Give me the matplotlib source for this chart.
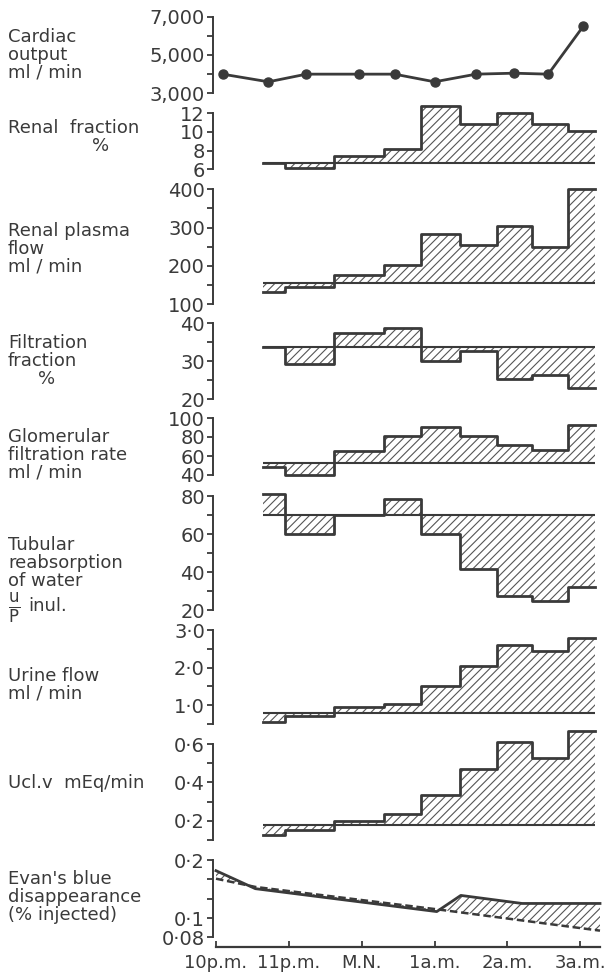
import numpy as np
import matplotlib
matplotlib.use("Agg")
import matplotlib.pyplot as plt

plt.rcParams['font.family'] = ['DejaVu Sans']
plt.rcParams['hatch.linewidth'] = 0.8
plt.rcParams['mathtext.fontset'] = 'dejavusans'

INK = '#3a3a3a'

# time in hours after 10 p.m.
period_edges = [0.64, 0.95, 1.62, 2.30, 2.82, 3.35, 3.85, 4.33, 4.83, 5.20]

cardiac_t = [0.09, 0.72, 1.24, 1.96, 2.45, 3.0, 3.57, 4.09, 4.56, 5.04]
cardiac = [4000, 3600, 4000, 4000, 4000, 3600, 4000, 4050, 4000, 6500]

renal_frac_base = 6.7
renal_frac = [6.7, 6.1, 7.4, 8.2, 12.8, 10.9, 12.0, 10.9, 10.1]

rpf_base = 154
rpf = [132, 144, 176, 202, 282, 254, 304, 250, 400]

ff_base = 33.8
ff = [33.8, 29.2, 37.5, 38.7, 30.2, 32.8, 25.3, 26.4, 23.1]

gfr_base = 53
gfr = [48, 40, 65.5, 81, 91, 81, 72, 66, 92.5]

tub_base = 70
tub = [81, 60, 70, 78.5, 60, 41.5, 27.5, 25, 32]

urine_base = 0.78
urine = [0.56, 0.72, 0.94, 1.03, 1.5, 2.04, 2.6, 2.44, 2.8]

ucl_base = 0.175
ucl = [0.125, 0.15, 0.2, 0.235, 0.335, 0.47, 0.61, 0.53, 0.67]

evans_t = [0, 0.54, 3.03, 3.36, 4.2, 5.27]
evans_solid = [0.176, 0.142, 0.108, 0.131, 0.119, 0.119]
evans_dash_t = [0, 0.54, 3.03, 5.27]
evans_dash = [0.160, 0.145, 0.111, 0.086]

hour_ticks = [0, 1, 2, 3, 4, 5]
hour_labels = ['10p.m.', '11p.m.', 'M.N.', '1a.m.', '2a.m.', '3a.m.']

W, H = 615, 980
fig = plt.figure(figsize=(W / 100, H / 100), dpi=100)
fig.patch.set_facecolor('white')

X0, X1 = 216, 600
TICKFS = 14


def panel(top, bot, ylim, ticks, labels):
    ax = fig.add_axes([X0 / W, 1 - bot / H, (X1 - X0) / W, (bot - top) / H])
    ax.set_xlim(0, 5.27)
    ax.set_ylim(*ylim)
    for s in ['top', 'right', 'bottom']:
        ax.spines[s].set_visible(False)
    ax.spines['left'].set_position(('outward', 2))
    ax.spines['left'].set_linewidth(1.4)
    ax.spines['left'].set_color(INK)
    ax.set_xticks([])
    ax.set_yticks(ticks)
    ax.set_yticklabels(labels)
    ax.tick_params(axis='y', direction='out', length=4.5, width=1.3,
                   color=INK, labelcolor=INK, labelsize=TICKFS, pad=1.5)
    ax.patch.set_alpha(0)
    return ax


def steps(ax, base, vals):
    ys = vals + [vals[-1]]
    ax.fill_between(period_edges, base, ys, step='post', facecolor='none',
                    edgecolor='#555555', hatch='////', linewidth=0, clip_on=False)
    ax.hlines(base, period_edges[0], period_edges[-1], color=INK, lw=1.5, clip_on=False)
    ax.step(period_edges, ys, where='post', color=INK, lw=2.0, clip_on=False)


# Cardiac output
ax = panel(16.7, 93.3, (3000, 7000), [3000, 4000, 5000, 6000, 7000],
           ['3,000', '', '5,000', '', '7,000'])
ax.plot(cardiac_t, cardiac, color=INK, lw=2.0, marker='o', ms=6.5, clip_on=False)

ax = panel(113.3, 169.3, (6, 12), [6, 8, 10, 12], ['6', '8', '10', '12'])
steps(ax, renal_frac_base, renal_frac)

ax = panel(189.3, 304, (100, 400), [100, 150, 200, 250, 300, 350, 400],
           ['100', '', '200', '', '300', '', '400'])
steps(ax, rpf_base, rpf)

ax = panel(323.3, 399.3, (20, 40), [20, 25, 30, 35, 40], ['20', '', '30', '', '40'])
steps(ax, ff_base, ff)

ax = panel(418, 475, (40, 100), [40, 60, 80, 100], ['40', '60', '80', '100'])
steps(ax, gfr_base, gfr)

ax = panel(496, 610, (20, 80), [20, 30, 40, 50, 60, 70, 80],
           ['20', '', '40', '', '60', '', '80'])
steps(ax, tub_base, tub)

ax = panel(630, 724, (0.5, 3.0), [0.5, 1.0, 1.5, 2.0, 2.5, 3.0],
           ['', '1·0', '', '2·0', '', '3·0'])
steps(ax, urine_base, urine)

ax = panel(744.3, 839.7, (0.1, 0.6), [0.1, 0.2, 0.3, 0.4, 0.5, 0.6],
           ['', '0·2', '', '0·4', '', '0·6'])
steps(ax, ucl_base, ucl)

# Evan's blue (log scale)
ax = panel(860, 937.3, (10 ** -1.1, 0.2), [0.1], [''])
ax.set_yscale('log')
ax.set_ylim(10 ** -1.1, 0.2)
ax.yaxis.set_minor_locator(matplotlib.ticker.NullLocator())
ax.set_yticks([10 ** -1.1, 10 ** -1.0, 10 ** -0.9, 10 ** -0.8, 10 ** -0.7])
ax.set_yticklabels(['0·08', '0·1', '', '', '0·2'])
ax.tick_params(axis='y', direction='out', length=4.5, width=1.3,
               color=INK, labelcolor=INK, labelsize=TICKFS, pad=1.5)
poly_t = list(evans_t) + list(evans_dash_t[::-1])
poly_v = list(evans_solid) + list(evans_dash[::-1])
ax.fill(poly_t, poly_v, facecolor='none', edgecolor='#555555', hatch='////', linewidth=0)
ax.plot(evans_t, evans_solid, color=INK, lw=2.0, clip_on=False)
ax.plot(evans_dash_t, evans_dash, color=INK, lw=1.8, ls=(0, (3, 1.5)), clip_on=False)
ax.spines['bottom'].set_visible(True)
ax.spines['bottom'].set_position(('outward', 7))
ax.spines['bottom'].set_linewidth(1.6)
ax.spines['bottom'].set_color(INK)
ax.spines['bottom'].set_bounds(0, 5.27)
ax.set_xticks(hour_ticks)
ax.set_xticklabels(hour_labels)
ax.tick_params(axis='x', direction='in', length=4, width=1.3, color=INK,
               labelcolor=INK, labelsize=13, pad=5)

# left-hand labels
def label(px, py, s, fs=13, **kw):
    fig.text(px / W, 1 - py / H, s, color=INK, fontsize=fs, va='center',
             ha='left', linespacing=0.98, **kw)

label(8, 55, 'Cardiac\noutput\nml / min')
label(8, 128, 'Renal  fraction')
label(92, 146, '%')
label(8, 249, 'Renal plasma\nflow\nml / min')
label(8, 352, 'Filtration\nfraction')
label(38, 379, '%')
label(8, 455, 'Glomerular\nfiltration rate\nml / min')
label(8, 563, 'Tubular\nreabsorption\nof water')
label(8, 609, r'$\frac{\mathrm{u}}{\mathrm{P}}$', fs=17)
label(28, 606, 'inul.')
label(8, 685, 'Urine flow\nml / min')
label(8, 783, 'Ucl.v  mEq/min')
label(8, 897, "Evan's blue\ndisappearance\n(% injected)")

fig.savefig('out.png', dpi=100)
